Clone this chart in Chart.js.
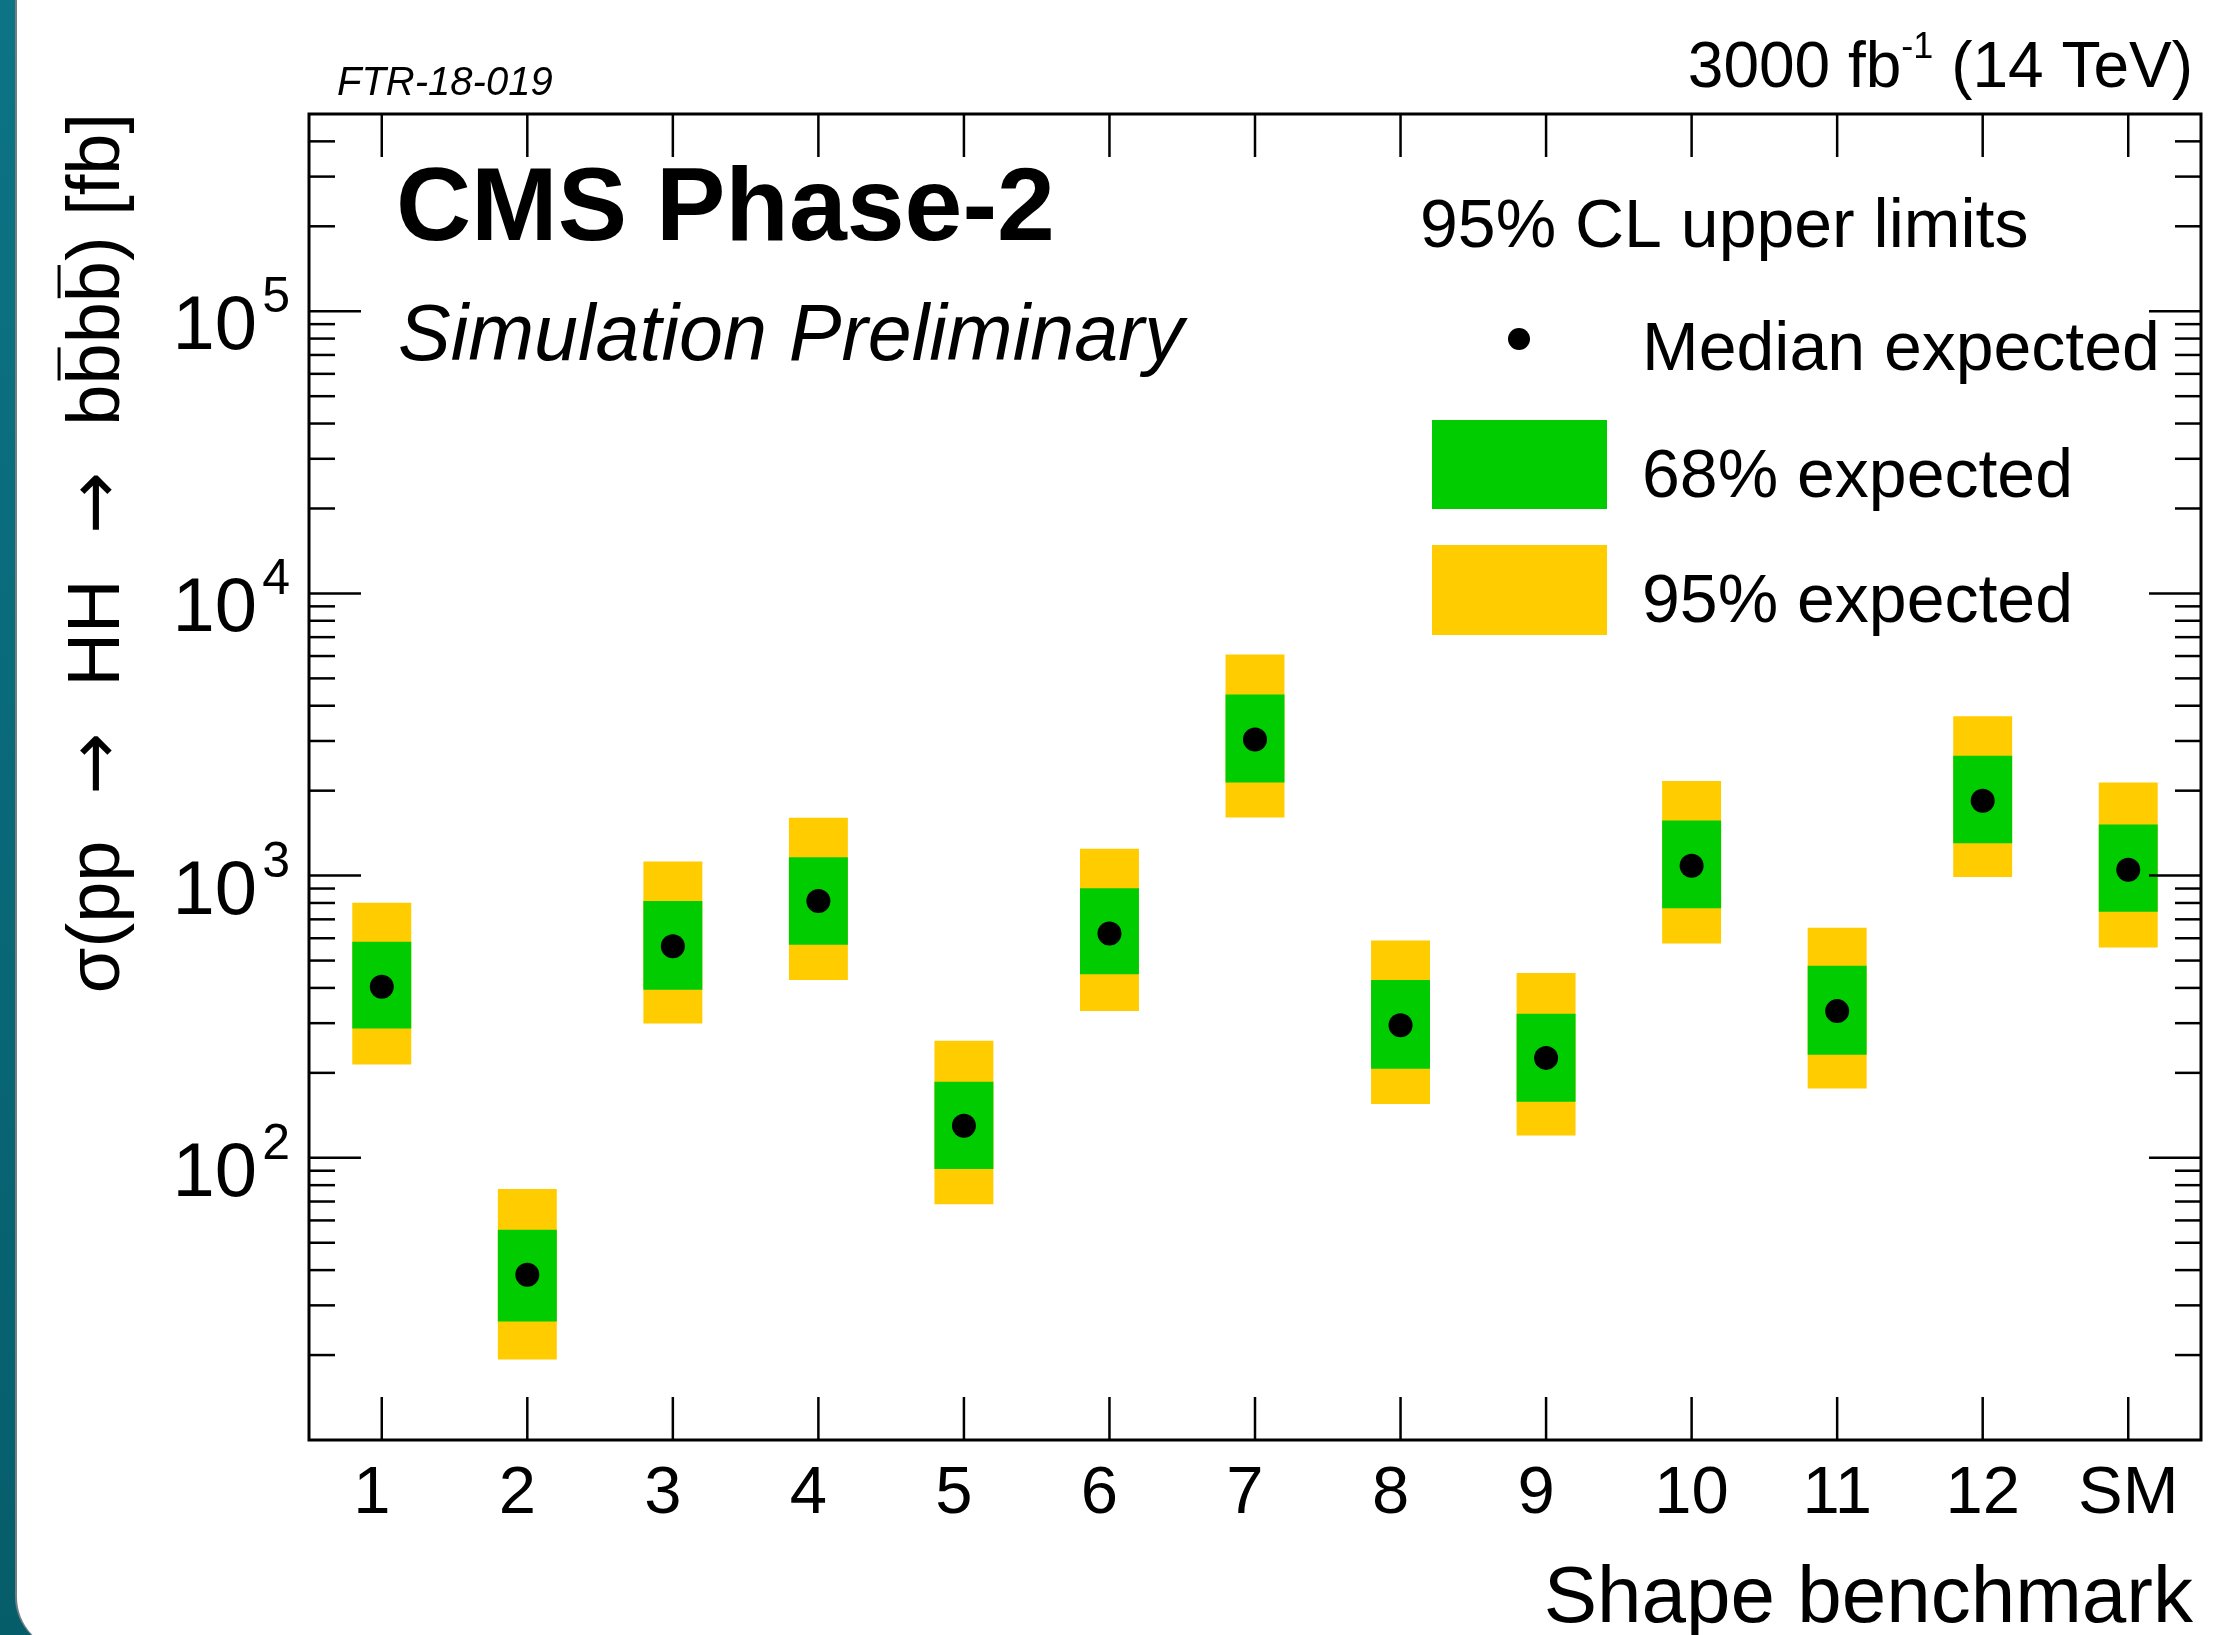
<!DOCTYPE html>
<html>
<head>
  <title>HH to bbbb limits</title>
  <script src="https://cdn.jsdelivr.net/npm/chart.js"></script>
  <style>
    body {
      margin: 0;
      padding: 0;
      background-color: #ffffff;
    }

    .wrap {
      position: relative;
      width: 2216px;
      height: 1635px;
      overflow: hidden;
      background: linear-gradient(#0c7485, #065d6a);
    }

    .panel {
      position: absolute;
      left: 15px;
      top: -10px;
      width: 2300px;
      height: 1660px;
      background-color: white;
      border-left: 2px solid #6f7f84;
      border-bottom-left-radius: 53px;
    }

    canvas {
      position: absolute;
      left: 0;
      top: 0;
    }
  </style>
</head>
<body>
  <div class="wrap">
    <div class="panel"></div>
    <canvas id="limitsChart" width="2216" height="1635"></canvas>
  </div>
  <script>
    // values (fb)
    const categories = ['1', '2', '3', '4', '5', '6', '7', '8', '9', '10', '11', '12', 'SM'];
    const median = [404, 38.5, 562, 813, 130, 624, 3034, 295, 226, 1084, 331, 1841, 1050];
    const low68 = [287, 26.3, 394, 569, 91.2, 447, 2138, 207, 158, 767, 232, 1303, 745];
    const high68 = [583, 55.6, 813, 1161, 186, 902, 4385, 427, 324, 1567, 479, 2661, 1517];
    const low95 = [214, 19.3, 299, 427, 68.4, 331, 1607, 155, 120, 575, 176, 989, 556];
    const high95 = [802, 77.6, 1122, 1603, 260, 1245, 6080, 589, 452, 2163, 653, 3673, 2138];
    const yMajorTicks = [100, 1000, 10000, 100000];
    const yMin = 10;
    const yMax = 500000;

    const FONT = '"Liberation Sans", Arial, Helvetica, sans-serif';
    const ARROW_FONT = '"DejaVu Sans", sans-serif';

    function text(ctx, s, x, y, size, opts) {
      opts = opts || {};
      ctx.save();
      ctx.font = (opts.style || '') + ' ' + (opts.weight || '') + ' ' + size + 'px ' + (opts.family || FONT);
      ctx.fillStyle = '#000';
      ctx.textAlign = opts.align || 'left';
      ctx.textBaseline = 'alphabetic';
      ctx.fillText(s, x, y);
      ctx.restore();
    }

    function line(ctx, x1, y1, x2, y2, w) {
      ctx.beginPath();
      ctx.lineWidth = w;
      ctx.moveTo(x1, y1);
      ctx.lineTo(x2, y2);
      ctx.stroke();
    }

    // ROOT style frame, inner ticks, labels and legend
    const rootStyle = {
      id: 'rootStyle',
      afterDatasetsDraw(chart) {
        const ctx = chart.ctx;
        const area = chart.chartArea;
        const x = chart.scales.x;
        const y = chart.scales.y;
        ctx.save();
        ctx.strokeStyle = '#000';
        ctx.lineCap = 'butt';

        // x ticks, bottom and top
        categories.forEach((c, i) => {
          const px = x.getPixelForValue(i);
          line(ctx, px, area.bottom, px, area.bottom - 43, 2.5);
          line(ctx, px, area.top, px, area.top + 43, 2.5);
          const shift = c.length === 1 ? -10 : 0;
          text(ctx, c, px + shift, 1513, 67, { align: 'center' });
        });

        // y ticks, left and right
        for (let e = 1; e <= 5; e++) {
          for (let m = 1; m <= 9; m++) {
            const v = m * Math.pow(10, e);
            if (v <= yMin || v >= yMax) continue;
            const py = y.getPixelForValue(v);
            const len = m === 1 ? 52 : 26;
            line(ctx, area.left, py, area.left + len, py, 2.5);
            line(ctx, area.right, py, area.right - len, py, 2.5);
          }
        }
        yMajorTicks.forEach(v => {
          const py = y.getPixelForValue(v);
          const exp = Math.round(Math.log10(v));
          text(ctx, '10', 257, py + 38, 76, { align: 'right' });
          text(ctx, String(exp), 290, py + 1, 50, { align: 'right' });
        });

        // frame
        ctx.lineWidth = 3;
        ctx.strokeRect(area.left, area.top, area.right - area.left, area.bottom - area.top);

        // y title with overlined b; [text, overline, font, gap after]
        const ySize = 74;
        const parts = [
          ['\u03c3(pp', false, FONT, 46], ['\u2192', false, ARROW_FONT, 46], ['HH', false, FONT, 46],
          ['\u2192', false, ARROW_FONT, 46], ['b', false, FONT, 0], ['b', true, FONT, 0], ['b', false, FONT, 0],
          ['b', true, FONT, 0], [') [fb]', false, FONT, 0]
        ];
        const widths = parts.map(p => {
          ctx.font = ySize + 'px ' + p[2];
          return ctx.measureText(p[0]).width;
        });
        const total = widths.reduce((a, b, i) => a + b + parts[i][3], 0);
        ctx.save();
        ctx.translate(119, 113);
        ctx.rotate(-Math.PI / 2);
        let pos = -total;
        parts.forEach((p, i) => {
          text(ctx, p[0], pos, 0, ySize, { family: p[2] });
          if (p[1]) {
            line(ctx, pos + 4, -ySize * 0.81, pos + widths[i] - 4, -ySize * 0.81, 3);
          }
          pos += widths[i] + p[3];
        });
        ctx.restore();

        // x title
        text(ctx, 'Shape benchmark', 2193, 1622, 80, { align: 'right' });

        // header texts
        text(ctx, 'FTR-18-019', 337, 95, 40, { style: 'italic' });
        ctx.font = '64px ' + FONT;
        const tail = ' (14 TeV)';
        const wTail = ctx.measureText(tail).width;
        ctx.font = '36px ' + FONT;
        const wSup = ctx.measureText('-1').width;
        text(ctx, tail, 2193, 87, 64, { align: 'right' });
        text(ctx, '-1', 2193 - wTail, 58, 36, { align: 'right' });
        text(ctx, '3000 fb', 2193 - wTail - wSup, 87, 64, { align: 'right' });

        text(ctx, 'CMS Phase-2', 396, 240, 104, { weight: 'bold' });
        text(ctx, 'Simulation Preliminary', 398, 360, 79, { style: 'italic' });

        // legend
        const ds = chart.data.datasets;
        text(ctx, '95% CL upper limits', 1420, 247, 68);
        ctx.fillStyle = ds[0].pointBackgroundColor;
        ctx.beginPath();
        ctx.arc(1519, 339, 11, 0, Math.PI * 2);
        ctx.fill();
        text(ctx, ds[0].label, 1642, 370, 68);
        ctx.fillStyle = ds[1].backgroundColor;
        ctx.fillRect(1432, 420, 175, 89);
        text(ctx, ds[1].label, 1642, 497, 68);
        ctx.fillStyle = ds[2].backgroundColor;
        ctx.fillRect(1432, 545, 175, 90);
        text(ctx, ds[2].label, 1642, 622, 68);

        ctx.restore();
      }
    };

    const ctx = document.getElementById('limitsChart').getContext('2d');
    new Chart(ctx, {
      type: 'bar',
      data: {
        labels: categories,
        datasets: [
          {
            type: 'line',
            label: 'Median expected',
            data: median,
            showLine: false,
            pointRadius: 12,
            pointBorderWidth: 0,
            pointBackgroundColor: '#000000',
            order: 0
          },
          {
            label: '68% expected',
            data: categories.map((c, i) => [low68[i], high68[i]]),
            backgroundColor: '#00cc00',
            grouped: false,
            barPercentage: 0.405,
            categoryPercentage: 1.0,
            order: 1
          },
          {
            label: '95% expected',
            data: categories.map((c, i) => [low95[i], high95[i]]),
            backgroundColor: '#ffcc00',
            grouped: false,
            barPercentage: 0.405,
            categoryPercentage: 1.0,
            order: 2
          }
        ]
      },
      options: {
        responsive: false,
        animation: false,
        layout: {
          padding: { left: 309, right: 15, top: 114, bottom: 195 }
        },
        plugins: {
          legend: { display: false },
          tooltip: { enabled: false }
        },
        scales: {
          x: {
            display: false,
            offset: true
          },
          y: {
            type: 'logarithmic',
            display: false,
            min: yMin,
            max: yMax
          }
        }
      },
      plugins: [rootStyle]
    });
  </script>
</body>
</html>
